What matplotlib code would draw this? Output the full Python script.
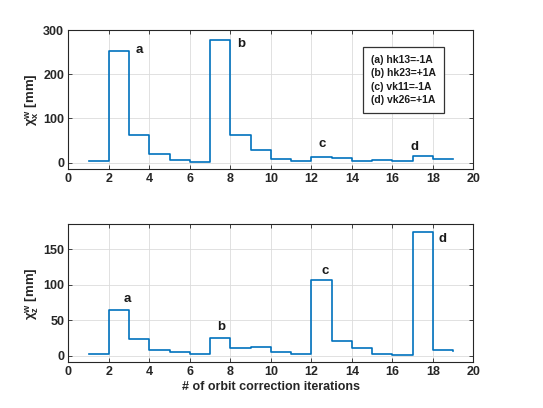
import numpy as np
import matplotlib
matplotlib.use("Agg")
import matplotlib.pyplot as plt

# -------- data --------
iterations = list(range(1, 20))

chi_x = [4, 253, 62, 20, 6, 1.5, 278, 63, 28, 8, 4, 13, 11, 4, 6, 4, 16, 8, 8]
chi_z = [3, 64, 23.5, 8, 5.5, 2.5, 25, 11, 12.5, 6, 3, 107, 21, 11.5, 3, 1.5, 174, 8.5, 7]

x_ticks = list(range(0, 21, 2))
x_ticks_top = [0, 100, 200, 300]
z_ticks = [0, 50, 100, 150]

labels = ["a", "b", "c", "d"]
x_label_pos = [(3.5, 255), (8.55, 268), (12.55, 43), (17.1, 35)]
z_label_pos = [(2.9, 80), (7.55, 40), (12.7, 120), (18.5, 164)]

legend_lines = ["(a) hk13=-1A", "(b) hk23=+1A", "(c) vk11=-1A", "(d) vk26=+1A"]

# -------- style --------
plt.rcParams["font.family"] = ["Liberation Sans", "DejaVu Sans"]
plt.rcParams["mathtext.fontset"] = "custom"
plt.rcParams["mathtext.rm"] = "Liberation Sans:bold"
plt.rcParams["mathtext.it"] = "Liberation Sans:bold"
plt.rcParams["mathtext.bf"] = "Liberation Sans:bold"
plt.rcParams["mathtext.default"] = "bf"

line_col = "#0072BD"
axis_col = "#262626"
fs = 9

fig = plt.figure(figsize=(5.43, 4.08), dpi=100)
ax1 = fig.add_axes([0.1258, 0.585, 0.7459, 0.3414])
ax2 = fig.add_axes([0.1258, 0.112, 0.7459, 0.338])


def style_axes(ax):
    ax.grid(True, color="#dcdcdc", linewidth=0.6)
    ax.set_axisbelow(True)
    ax.tick_params(direction="in", top=True, right=True, length=3,
                   width=0.6, color=axis_col, labelsize=fs, pad=3)
    for lab in ax.get_xticklabels() + ax.get_yticklabels():
        lab.set_fontweight("bold")
        lab.set_color(axis_col)
    for sp in ax.spines.values():
        sp.set_color(axis_col)
        sp.set_linewidth(0.8)


# top panel
ax1.step(iterations, chi_x, where="post", color=line_col, linewidth=1.2)
ax1.set_xlim(0, 20)
ax1.set_ylim(-15, 300)
ax1.set_xticks(x_ticks)
ax1.set_yticks(x_ticks_top)
ax1.set_ylabel(r"$\chi^{w}_{x}$ [mm]", fontsize=9.5, fontweight="bold",
               color=axis_col, labelpad=1.5)
for lab, (lx, ly) in zip(labels, x_label_pos):
    ax1.text(lx, ly, lab, fontsize=9.5, fontweight="bold", ha="center",
             va="center", color="#1a1a1a")
ax1.text(14.95, 187, "\n".join(legend_lines), fontsize=7.5, fontweight="bold",
         ha="left", va="center", linespacing=1.45, color="#1a1a1a",
         bbox=dict(boxstyle="square,pad=0.75", facecolor="white",
                   edgecolor="#333333", linewidth=0.9))
style_axes(ax1)

# bottom panel
ax2.step(iterations, chi_z, where="post", color=line_col, linewidth=1.2)
ax2.set_xlim(0, 20)
ax2.set_ylim(-9, 185)
ax2.set_xticks(x_ticks)
ax2.set_yticks(z_ticks)
ax2.set_ylabel(r"$\chi^{w}_{z}$ [mm]", fontsize=9.5, fontweight="bold",
               color=axis_col, labelpad=1.5)
ax2.set_xlabel("# of orbit correction iterations", fontsize=fs,
               fontweight="bold", color=axis_col, labelpad=2)
for lab, (lx, ly) in zip(labels, z_label_pos):
    ax2.text(lx, ly, lab, fontsize=9.5, fontweight="bold", ha="center",
             va="center", color="#1a1a1a")
style_axes(ax2)

fig.savefig("out.png", dpi=100)
